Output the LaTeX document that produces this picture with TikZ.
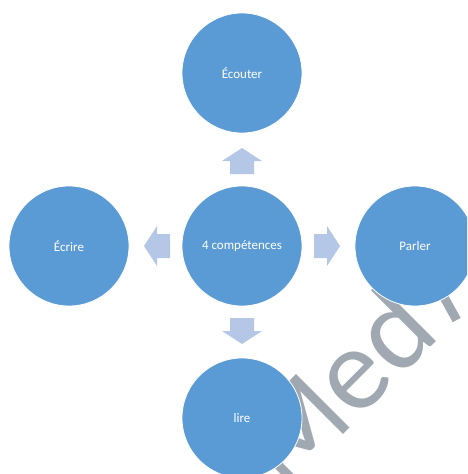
\documentclass[tikz,border=0pt]{standalone}
\usepackage{fontspec}
\setmainfont{Carlito}
\definecolor{skillfill}{HTML}{5B9BD5}
\definecolor{pointerfill}{HTML}{B4C7E7}
\definecolor{stampgrey}{HTML}{A0A8B2}
\begin{document}
\begin{tikzpicture}[x=1pt,y=-1pt,
  skill/.style={circle, minimum size=120pt, inner sep=0pt, fill=skillfill,
    draw=white, line width=0.8pt, text=white,
    font=\fontsize{13}{15}\selectfont},
  pointer/.style={fill=pointerfill},
  stamp/.style={text=stampgrey, inner sep=0pt, font=\fontsize{118}{120}\selectfont}
]
\clip (0,0) rectangle (467,474);

% grey stamp lying behind the circles
\node[stamp, rotate=45, anchor=base west] (wm) at (285,493) {Med};
\draw[stampgrey, line width=9pt] (456.7,320) -- (440,290);

% the four skills around the centre
\node[skill] (c) at (242,246) {4 compétences};
\node[skill] (t) at (242,73)  {Écouter};
\node[skill] (l) at (69,246)  {Écrire};
\node[skill] (r) at (415,246) {Parler};
\node[skill] (b) at (242,418) {lire};

% block arrows pointing out of the centre
\foreach \a in {0,90,180,270}
  \fill[pointer, shift={(c.center)}, rotate=\a]
    (72,-12) -- (85,-12) -- (85,-20) -- (98,0) -- (85,20) -- (85,12) -- (72,12) -- cycle;
\end{tikzpicture}
\end{document}
